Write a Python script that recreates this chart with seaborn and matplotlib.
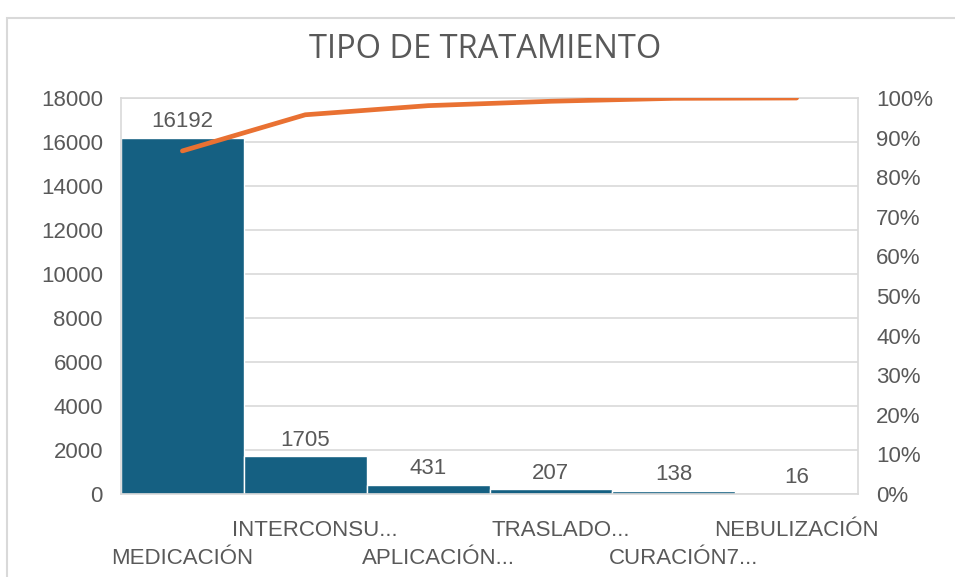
import numpy as np
import pandas as pd
import matplotlib
matplotlib.use("Agg")
import matplotlib.pyplot as plt
from matplotlib.patches import Rectangle
from matplotlib.ticker import PercentFormatter, MultipleLocator
from matplotlib.transforms import ScaledTranslation
import seaborn as sns

# ---- data ----
categories = ["MEDICACIÓN", "INTERCONSU...", "APLICACIÓN...", "TRASLADO...",
              "CURACIÓN7...", "NEBULIZACIÓN"]
counts = [16192, 1705, 431, 207, 138, 16]
left_ticks = [0, 2000, 4000, 6000, 8000, 10000, 12000, 14000, 16000, 18000]
title = "TIPO DE TRATAMIENTO"

bar_color = "#156082"
line_color = "#E97132"
text_color = "#595959"
grid_color = "#D9D9D9"

sns.set_theme(style="white")
plt.rcParams["font.family"] = ["Liberation Sans", "DejaVu Sans"]

df = pd.DataFrame({"cat": categories, "count": counts})
df["pos"] = np.arange(len(df))
df["cum"] = np.cumsum(df["count"]) / np.sum(df["count"])

W, H = 955, 577
fig = plt.figure(figsize=(W / 100, H / 100), dpi=100)
ax = fig.add_axes([121 / W, 1 - 494 / H, (858 - 121) / W, (494 - 98) / H])

sns.barplot(data=df, x="cat", y="count", color=bar_color, width=1.0,
            edgecolor="white", linewidth=1.0, saturation=1, ax=ax, zorder=2)
ax.set_xlim(-0.5, len(df) - 0.5)
ax.set_ylim(0, 18000)
ax.set_yticks(left_ticks)
ax.yaxis.grid(True, color=grid_color, linewidth=1.2, zorder=0)
ax.set_axisbelow(True)
ax.set_xlabel("")
ax.set_ylabel("")
for s in ax.spines.values():
    s.set_color(grid_color)
    s.set_linewidth(1.2)
ax.tick_params(axis="y", length=0, pad=13, labelsize=16, labelcolor=text_color)
ax.tick_params(axis="x", length=0, labelsize=16, labelcolor=text_color)

ax.bar_label(ax.containers[0], labels=[str(v) for v in counts], padding=4,
             fontsize=16, color=text_color)

# staggered category labels
for i, t in enumerate(ax.xaxis.get_major_ticks()):
    t.set_pad(19 if i % 2 == 1 else 39)
    lab = t.label1
    if lab.get_text().endswith("...") or categories[i].endswith("..."):
        lab.set_transform(lab.get_transform() +
                          ScaledTranslation(0.10, 0, fig.dpi_scale_trans))

ax2 = ax.twinx()
sns.lineplot(data=df, x="pos", y="cum", color=line_color, linewidth=3.4,
             ax=ax2, solid_capstyle="round", zorder=3)
ax2.set_ylim(0, 1)
ax2.yaxis.set_major_locator(MultipleLocator(0.1))
ax2.yaxis.set_major_formatter(PercentFormatter(1.0, decimals=0))
ax2.tick_params(axis="y", length=0, pad=13, labelsize=16, labelcolor=text_color)
ax2.set_ylabel("")
ax2.set_xlabel("")
for s in ax2.spines.values():
    s.set_visible(False)
ax2.set_xlim(-0.5, len(df) - 0.5)

fig.text(485 / W, 1 - 49 / H, title, ha="center", va="center",
         fontsize=23.5, color=text_color, family=["Open Sans", "DejaVu Sans"])

fig.patches.append(Rectangle((7 / W, -0.1), 1.1, 1 - 18 / H + 0.1,
                             transform=fig.transFigure, fill=False,
                             edgecolor=grid_color, linewidth=1.5))

fig.savefig("out.png", dpi=100, facecolor="white")
